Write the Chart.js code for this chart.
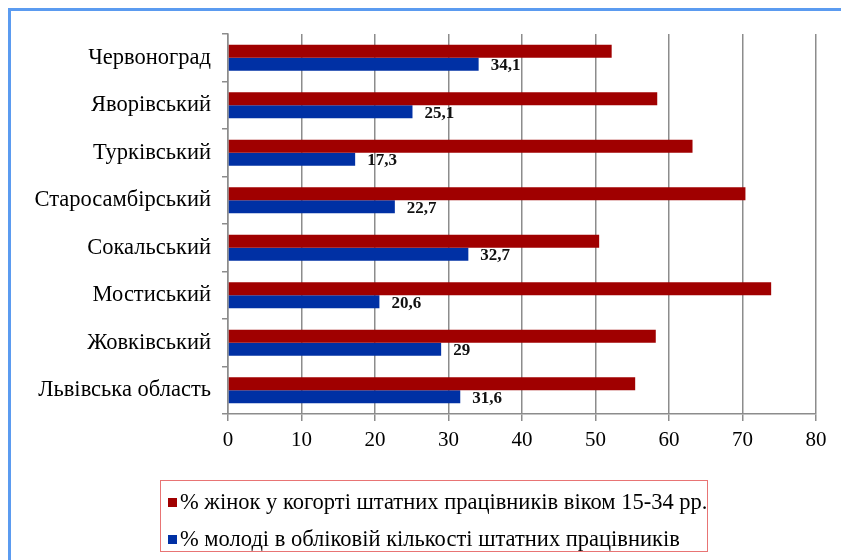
<!DOCTYPE html>
<html>
<head>
<meta charset="utf-8">
<script src="https://cdn.jsdelivr.net/npm/chart.js@4.4.1/dist/chart.umd.min.js"></script>
<style>
html,body{margin:0;padding:0;width:841px;height:560px;overflow:hidden;background:#fff;}
#frame{position:absolute;left:8px;top:8px;width:900px;height:600px;border-left:3px solid #5b9bf0;border-top:3px solid #5b9bf0;box-sizing:border-box;}
#wrap{position:absolute;left:0;top:0;width:841px;height:560px;}
#legend{position:absolute;left:160px;top:480px;width:548px;height:72px;border:1.5px solid #e87474;box-sizing:border-box;font-family:"Liberation Serif","Times New Roman",serif;font-size:22.5px;color:#000;}
.item{position:absolute;left:7px;height:26px;line-height:26px;white-space:nowrap;}
.sw{display:inline-block;width:9px;height:9px;margin-right:3px;vertical-align:middle;position:relative;top:-1px;}
</style>
</head>
<body>
<div id="frame"></div>
<div id="wrap"><canvas id="c" width="841" height="560"></canvas></div>
<div id="legend"></div>
<script>
const categories = ['Червоноград','Яворівський','Турківський','Старосамбірський','Сокальський','Мостиський','Жовківський','Львівська область'];
const womenShare = [52.2, 58.4, 63.2, 70.4, 50.5, 73.9, 58.2, 55.4];
const youthShare = [34.1, 25.1, 17.3, 22.7, 32.7, 20.6, 29, 31.6];
const seriesNames = ['% жінок у когорті штатних працівників віком 15-34 рр.', '% молоді в обліковій кількості штатних працівників'];
const xTicks = [0,10,20,30,40,50,60,70,80];

const RED = '#a00000';
const BLUE = '#0030a4';
const GRID = '#8c8c8c';
const SERIF = '"Liberation Serif","Times New Roman",serif';

const labelPlugin = {
  id: 'valueLabels',
  afterDatasetsDraw(chart) {
    const ctx = chart.ctx;
    const meta = chart.getDatasetMeta(1);
    ctx.save();
    ctx.font = 'bold 17px ' + SERIF;
    ctx.fillStyle = '#111';
    ctx.textAlign = 'left';
    ctx.textBaseline = 'middle';
    meta.data.forEach((el, i) => {
      const v = chart.data.datasets[1].data[i];
      ctx.fillText(String(v).replace('.', ','), el.x + 12, el.y + 1.5);
    });
    ctx.restore();
  }
};

new Chart(document.getElementById('c'), {
  type: 'bar',
  data: {
    labels: categories,
    datasets: [
      { label: seriesNames[0], data: womenShare, backgroundColor: RED, borderWidth: 0 },
      { label: seriesNames[1], data: youthShare, backgroundColor: BLUE, borderWidth: 0 }
    ]
  },
  options: {
    indexAxis: 'y',
    responsive: false,
    animation: false,
    devicePixelRatio: 1,
    layout: { padding: { top: 34, right: 25, bottom: 0, left: 0 } },
    datasets: { bar: { categoryPercentage: 0.55, barPercentage: 1.0 } },
    plugins: { legend: { display: false }, tooltip: { enabled: false } },
    scales: {
      x: {
        min: 0, max: 80,
        afterBuildTicks(scale) { scale.ticks = xTicks.map(v => ({ value: v })); },
        afterFit(scale) { scale.height = 146; },
        grid: { color: GRID, lineWidth: 1.5, tickLength: 7, drawTicks: true },
        border: { display: true, color: GRID, width: 1.5 },
        ticks: { font: { family: SERIF, size: 21 }, color: '#000', padding: 7 }
      },
      y: {
        afterFit(scale) { scale.width = 228; },
        grid: { drawOnChartArea: false, color: GRID, lineWidth: 1.5, tickLength: 6 },
        border: { display: true, color: GRID, width: 1.5 },
        ticks: { font: { family: SERIF, size: 22.5 }, color: '#000', padding: 11 }
      }
    }
  },
  plugins: [labelPlugin]
});

const legend = document.getElementById('legend');
[[RED, seriesNames[0], 501], [BLUE, seriesNames[1], 538]].forEach(([col, txt, cy]) => {
  const d = document.createElement('div');
  d.className = 'item';
  d.style.top = (cy - 480 - 13) + 'px';
  const s = document.createElement('span');
  s.className = 'sw';
  s.style.background = col;
  d.appendChild(s);
  d.appendChild(document.createTextNode(txt));
  legend.appendChild(d);
});
</script>
</body>
</html>
